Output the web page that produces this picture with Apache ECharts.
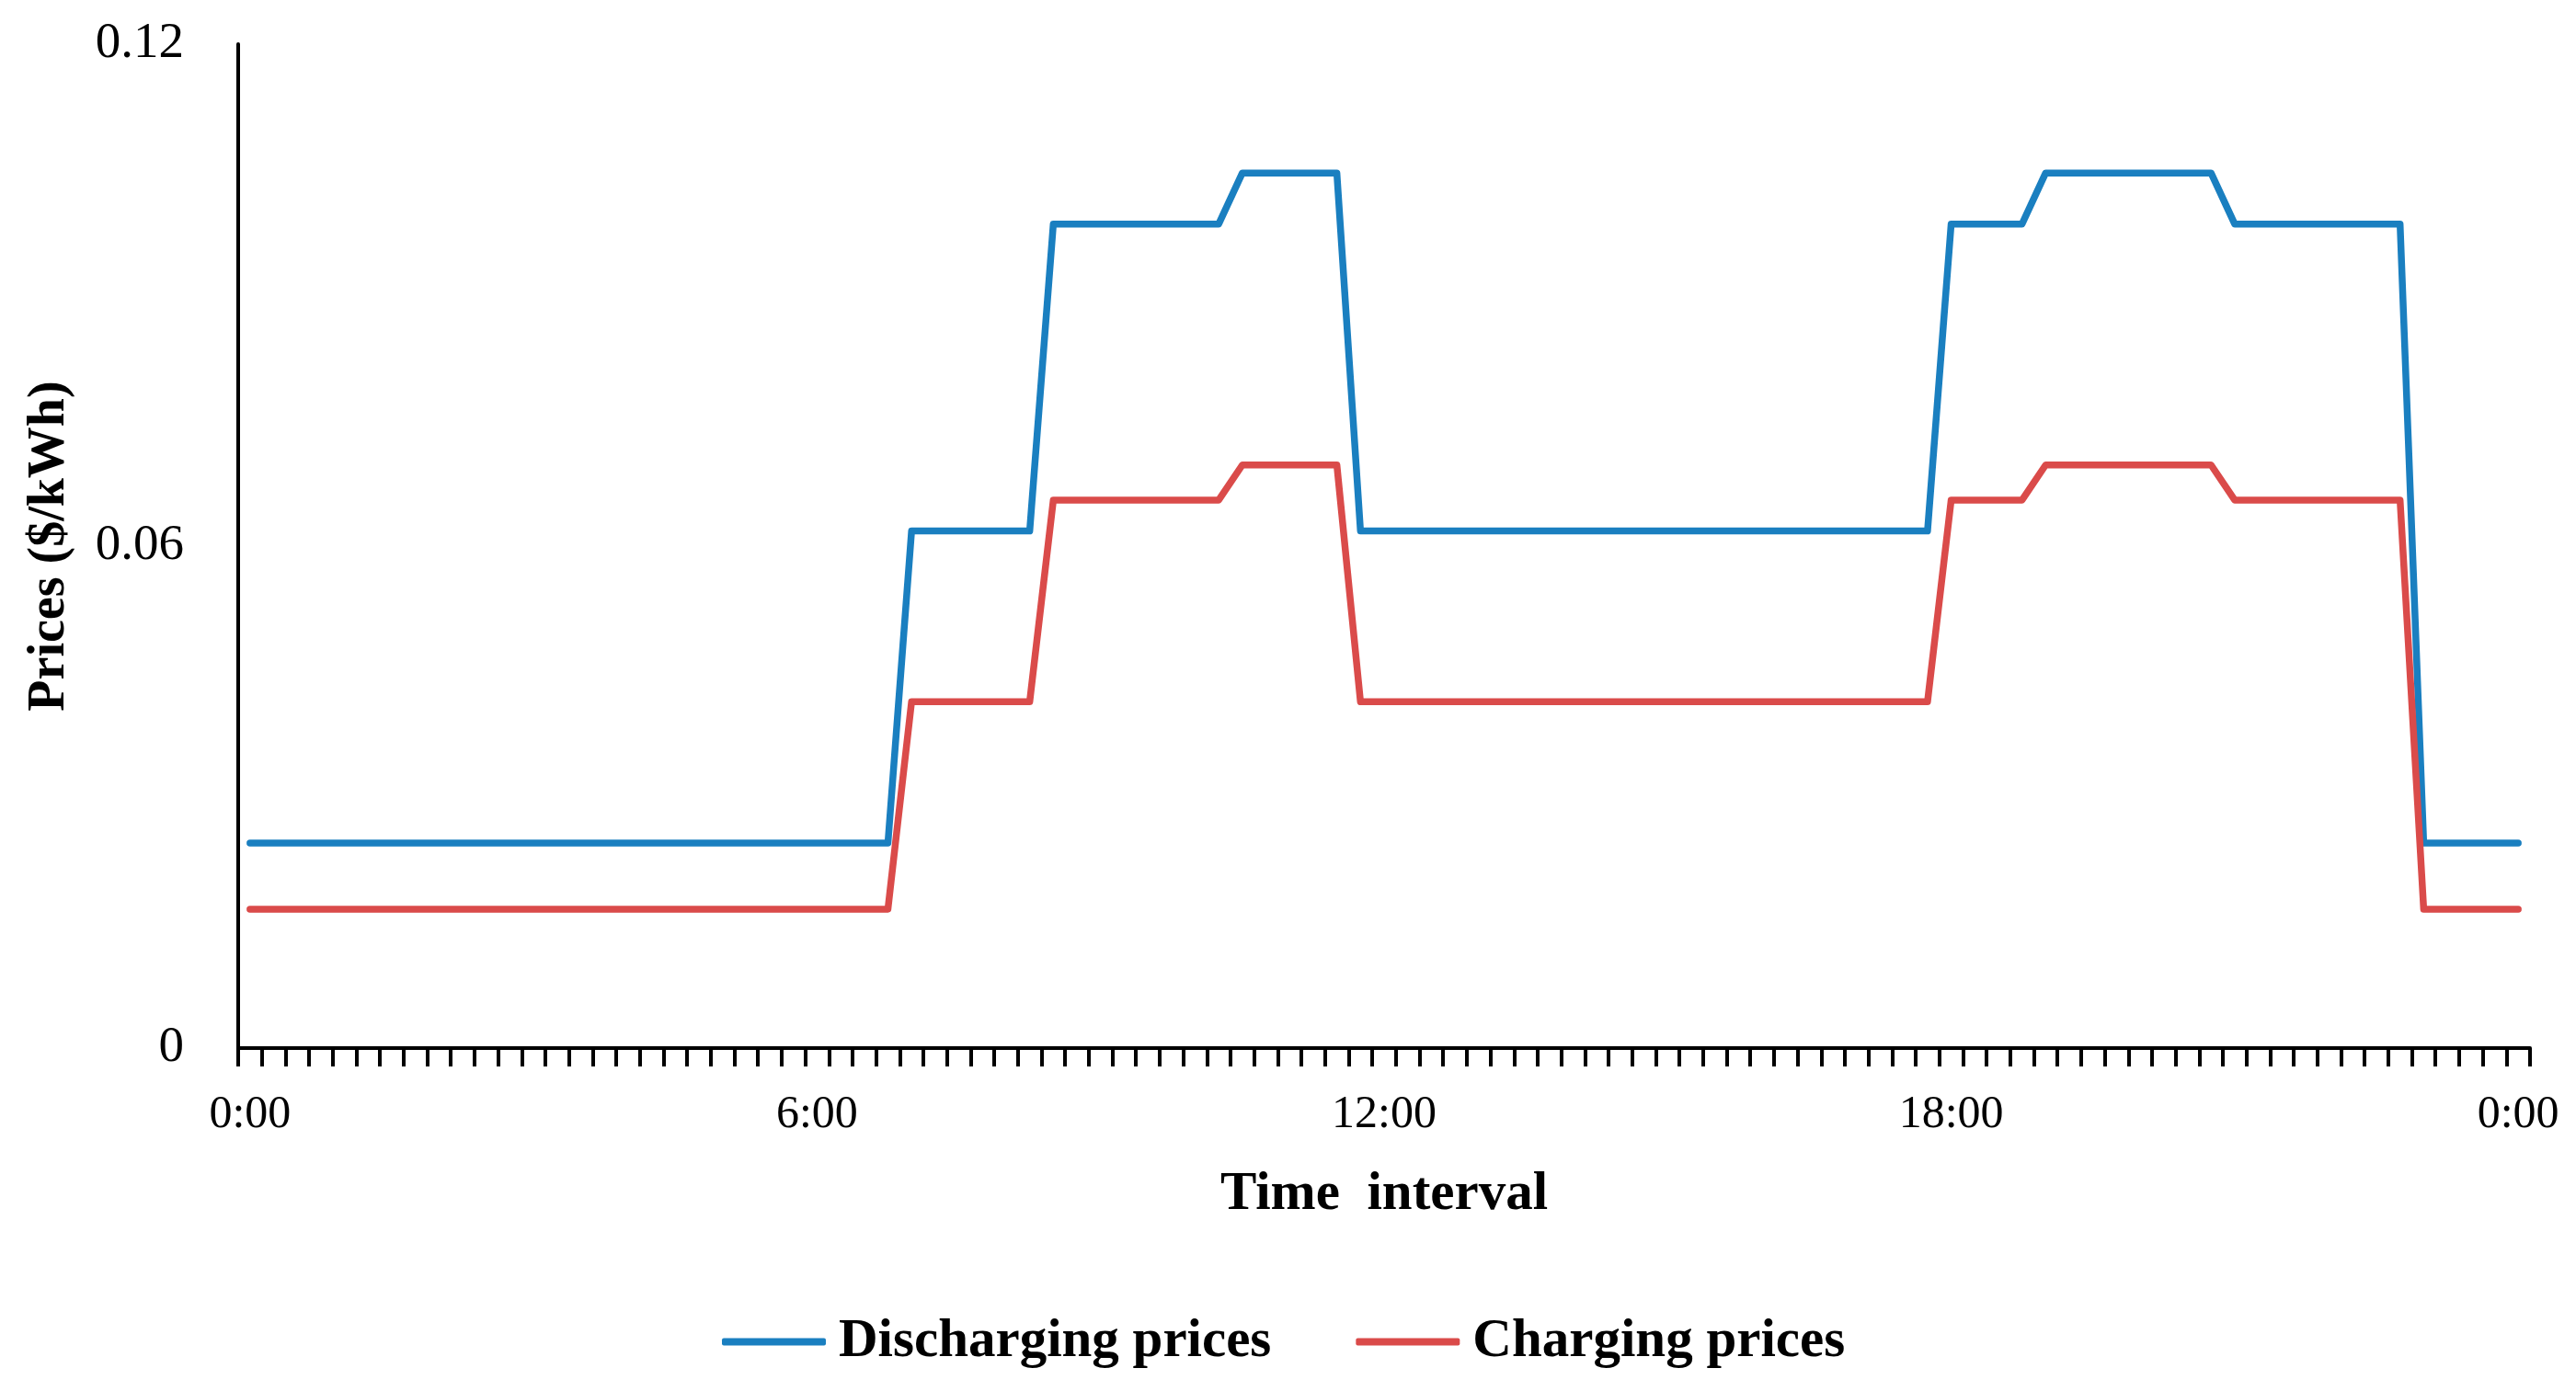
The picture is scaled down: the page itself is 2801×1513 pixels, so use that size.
<!DOCTYPE html>
<html>
<head>
<meta charset="utf-8">
<script src="https://cdn.jsdelivr.net/npm/echarts@6/dist/echarts.min.js"></script>
<style>
html,body{margin:0;padding:0;background:#fff;}
#chart{width:2801px;height:1513px;}
</style>
</head>
<body>
<div id="chart"></div>
<script>
// 15-minute time slots, 0:00 to 0:00 (97 categories)
var categories = [
'0:00','0:15','0:30','0:45','1:00','1:15','1:30','1:45','2:00','2:15','2:30','2:45',
'3:00','3:15','3:30','3:45','4:00','4:15','4:30','4:45','5:00','5:15','5:30','5:45',
'6:00','6:15','6:30','6:45','7:00','7:15','7:30','7:45','8:00','8:15','8:30','8:45',
'9:00','9:15','9:30','9:45','10:00','10:15','10:30','10:45','11:00','11:15','11:30','11:45',
'12:00','12:15','12:30','12:45','13:00','13:15','13:30','13:45','14:00','14:15','14:30','14:45',
'15:00','15:15','15:30','15:45','16:00','16:15','16:30','16:45','17:00','17:15','17:30','17:45',
'18:00','18:15','18:30','18:45','19:00','19:15','19:30','19:45','20:00','20:15','20:30','20:45',
'21:00','21:15','21:30','21:45','22:00','22:15','22:30','22:45','23:00','23:15','23:30','23:45',
'0:00 '
];

var dischargingPrices = [
0.0245,0.0245,0.0245,0.0245,0.0245,0.0245,0.0245,0.0245,0.0245,0.0245,0.0245,0.0245,
0.0245,0.0245,0.0245,0.0245,0.0245,0.0245,0.0245,0.0245,0.0245,0.0245,0.0245,0.0245,
0.0245,0.0245,0.0245,0.0245,0.0618,0.0618,0.0618,0.0618,0.0618,0.0618,0.0985,0.0985,
0.0985,0.0985,0.0985,0.0985,0.0985,0.0985,0.1046,0.1046,0.1046,0.1046,0.1046,0.0618,
0.0618,0.0618,0.0618,0.0618,0.0618,0.0618,0.0618,0.0618,0.0618,0.0618,0.0618,0.0618,
0.0618,0.0618,0.0618,0.0618,0.0618,0.0618,0.0618,0.0618,0.0618,0.0618,0.0618,0.0618,
0.0985,0.0985,0.0985,0.0985,0.1046,0.1046,0.1046,0.1046,0.1046,0.1046,0.1046,0.1046,
0.0985,0.0985,0.0985,0.0985,0.0985,0.0985,0.0985,0.0985,0.0245,0.0245,0.0245,0.0245,
0.0245
];

var chargingPrices = [
0.0166,0.0166,0.0166,0.0166,0.0166,0.0166,0.0166,0.0166,0.0166,0.0166,0.0166,0.0166,
0.0166,0.0166,0.0166,0.0166,0.0166,0.0166,0.0166,0.0166,0.0166,0.0166,0.0166,0.0166,
0.0166,0.0166,0.0166,0.0166,0.0414,0.0414,0.0414,0.0414,0.0414,0.0414,0.0655,0.0655,
0.0655,0.0655,0.0655,0.0655,0.0655,0.0655,0.0697,0.0697,0.0697,0.0697,0.0697,0.0414,
0.0414,0.0414,0.0414,0.0414,0.0414,0.0414,0.0414,0.0414,0.0414,0.0414,0.0414,0.0414,
0.0414,0.0414,0.0414,0.0414,0.0414,0.0414,0.0414,0.0414,0.0414,0.0414,0.0414,0.0414,
0.0655,0.0655,0.0655,0.0655,0.0697,0.0697,0.0697,0.0697,0.0697,0.0697,0.0697,0.0697,
0.0655,0.0655,0.0655,0.0655,0.0655,0.0655,0.0655,0.0655,0.0166,0.0166,0.0166,0.0166,
0.0166
];

var yTicks = [0, 0.06, 0.12];
var seriesNames = ['Discharging prices', 'Charging prices'];
var xTitle = 'Time  interval';
var yTitle = 'Prices ($/kWh)';

var FONT = 'Liberation Serif';
var chart = echarts.init(document.getElementById('chart'), null, {renderer: 'canvas'});
chart.setOption({
  animation: false,
  backgroundColor: '#ffffff',
  grid: {left: 259, right: 50, top: 48, bottom: 373, containLabel: false},
  legend: {
    data: seriesNames,
    left: 780,
    top: 1425,
    itemWidth: 113,
    itemHeight: 8,
    itemGap: 92,
    icon: 'roundRect',
    textStyle: {fontFamily: FONT, fontSize: 59, fontWeight: 'bold', color: '#000', padding: [0, 0, 0, 9]}
  },
  xAxis: {
    type: 'category',
    data: categories,
    boundaryGap: true,
    name: xTitle,
    nameLocation: 'middle',
    nameGap: 130,
    nameTextStyle: {fontFamily: FONT, fontSize: 59, fontWeight: 'bold', color: '#000'},
    axisLine: {show: true, lineStyle: {color: '#000', width: 4}},
    axisTick: {show: true, interval: 0, alignWithLabel: false, length: 20, lineStyle: {color: '#000', width: 4}},
    axisLabel: {
      interval: 23,
      margin: 48,
      fontFamily: FONT, fontSize: 50, color: '#000',
      formatter: function (v) { return v.trim(); }
    },
    splitLine: {show: false}
  },
  yAxis: {
    type: 'value',
    min: yTicks[0],
    max: yTicks[yTicks.length - 1],
    interval: yTicks[1] - yTicks[0],
    name: yTitle,
    nameLocation: 'middle',
    nameGap: 176,
    nameRotate: 90,
    nameTextStyle: {fontFamily: FONT, fontSize: 56, fontWeight: 'bold', color: '#000'},
    axisLine: {show: true, lineStyle: {color: '#000', width: 4}},
    axisTick: {show: false},
    axisLabel: {
      margin: 59,
      fontFamily: FONT, fontSize: 55, color: '#000',
      formatter: function (v) { return String(+v.toFixed(2)); }
    },
    splitLine: {show: false}
  },
  series: [
    {
      name: seriesNames[0],
      type: 'line',
      data: dischargingPrices,
      showSymbol: false,
      symbol: 'none',
      color: '#1a7fc0',
      lineStyle: {width: 7.5, color: '#1a7fc0', cap: 'round', join: 'round'}
    },
    {
      name: seriesNames[1],
      type: 'line',
      data: chargingPrices,
      showSymbol: false,
      symbol: 'none',
      color: '#da4b4a',
      lineStyle: {width: 7.5, color: '#da4b4a', cap: 'round', join: 'round'}
    }
  ]
});
</script>
</body>
</html>
